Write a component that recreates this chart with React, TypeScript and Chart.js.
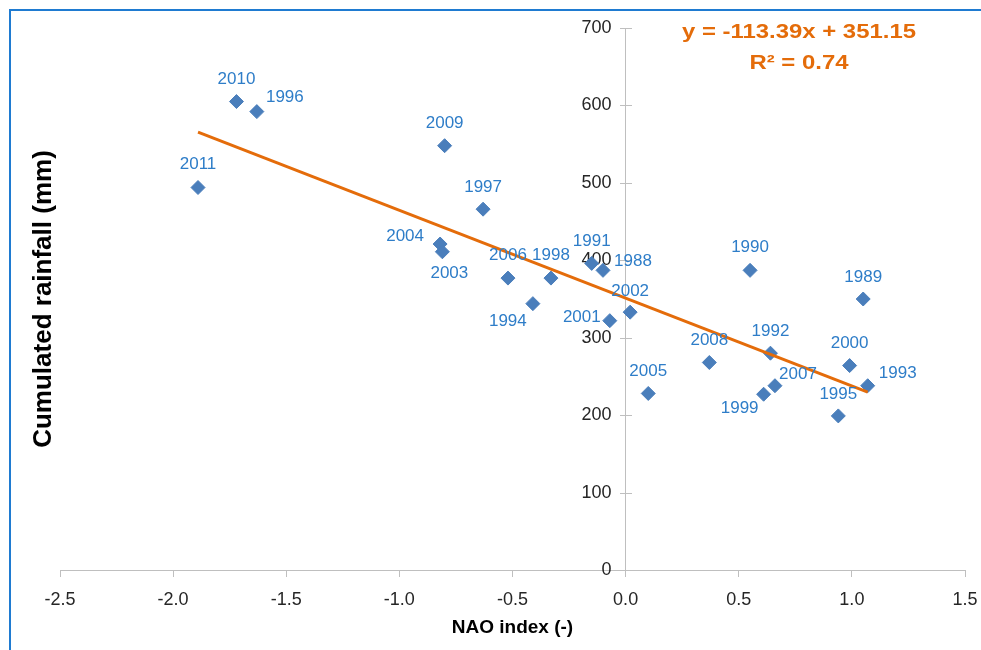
import React, { useEffect, useRef } from 'react';
import { Chart, registerables } from 'chart.js';

Chart.register(...registerables);

// ---- Data ----
const years = ['2011', '2010', '1996', '2009', '1997', '2004', '2003', '2006', '1998', '1994', '1991', '1988',
  '2001', '2002', '2005', '2008', '1990', '1992', '1999', '2007', '1989', '2000', '1993', '1995'];
const naoIndex = [-1.89, -1.72, -1.63, -0.80, -0.63, -0.82, -0.81, -0.52, -0.33, -0.41, -0.15, -0.10,
  -0.07, 0.02, 0.10, 0.37, 0.55, 0.64, 0.61, 0.66, 1.05, 0.99, 1.07, 0.94];
const rainfall = [494, 605, 592, 548, 466, 421, 411, 377, 377, 344, 396, 387,
  322, 333, 228, 268, 387, 280, 227, 238, 350, 264, 238, 199];

// Trendline shown on the chart: y = -113.39x + 351.15, R² = 0.74
const trendSlope = -113.39;
const trendIntercept = 351.15;
const equationText = 'y = -113.39x + 351.15';
const r2Text = 'R² = 0.74';

const xTicks = { min: -2.5, max: 1.5, step: 0.5 };
const yTicks = { min: 0, max: 700, step: 100 };

// Label placement of each year label (pixel offset from its marker)
const labelOffsets: Record<string, [number, number]> = {
  '2011': [0, -23], '2010': [0, -22], '1996': [28, -14], '2009': [0, -22], '1997': [0, -22],
  '2004': [-35, -8], '2003': [7, 22], '2006': [0, -23], '1998': [0, -23], '1994': [-25, 18],
  '1991': [0, -22], '1988': [30, -9], '2001': [-28, -3], '2002': [0, -21], '2005': [0, -22],
  '2008': [0, -22], '1990': [0, -23], '1992': [0, -22], '1999': [-24, 14], '2007': [23, -11],
  '1989': [0, -22], '2000': [0, -22], '1993': [30, -12], '1995': [0, -22],
};

const FONT = '"Liberation Sans", Arial, sans-serif';
const BLUE_MARK = '#4a7ebb';
const BLUE_TEXT = '#2e7dc8';
const ORANGE = '#e46c0a';
const AXIS_GREY = '#bfbfbf';

// Shift the y tick labels of the centred axis away from the axis line
const yLabelShiftPlugin = {
  id: 'yLabelShift',
  beforeDraw(chart: any) {
    const s = chart.scales.y;
    if (!s || !s._computeLabelItems) return;
    const items = s._computeLabelItems(chart.chartArea);
    items.forEach((it: any) => {
      if (it.options && it.options.translation) it.options.translation[0] -= 14;
    });
    s._labelItems = items;
  },
};

const annotationPlugin = {
  id: 'annotations',
  afterDatasetsDraw(chart: any) {
    const { ctx, chartArea } = chart;
    // y-axis cross ticks
    const ys = chart.scales.y;
    const x0 = chart.scales.x.getPixelForValue(0);
    ctx.save();
    ctx.strokeStyle = AXIS_GREY;
    ctx.lineWidth = 1;
    ys.ticks.forEach((t: any) => {
      const py = Math.round(ys.getPixelForValue(t.value)) + 0.5;
      ctx.beginPath();
      ctx.moveTo(Math.round(x0) - 6, py);
      ctx.lineTo(Math.round(x0) + 6, py);
      ctx.stroke();
    });
    ctx.restore();

    // year labels
    const meta = chart.getDatasetMeta(0);
    ctx.save();
    ctx.font = `17px ${FONT}`;
    ctx.fillStyle = BLUE_TEXT;
    ctx.textAlign = 'center';
    ctx.textBaseline = 'middle';
    meta.data.forEach((pt: any, i: number) => {
      const off = labelOffsets[years[i]] || [0, -22];
      ctx.fillText(years[i], pt.x + off[0], pt.y + off[1]);
    });
    ctx.restore();

    // y title
    ctx.save();
    ctx.font = `bold 26px ${FONT}`;
    ctx.fillStyle = '#000';
    ctx.textAlign = 'center';
    ctx.textBaseline = 'middle';
    ctx.translate(44, (chartArea.top + chartArea.bottom) / 2);
    ctx.rotate(-Math.PI / 2);
    ctx.fillText('Cumulated rainfall (mm)', 0, 0);
    ctx.restore();

    // equation
    ctx.save();
    ctx.font = `bold 20px ${FONT}`;
    ctx.fillStyle = ORANGE;
    ctx.textAlign = 'center';
    ctx.textBaseline = 'middle';
    const w = ctx.measureText(equationText).width;
    const sx = 234 / w;
    ctx.translate(799, 32);
    ctx.scale(sx, 1);
    ctx.fillText(equationText, 0, 0);
    ctx.restore();
    ctx.save();
    ctx.font = `bold 20px ${FONT}`;
    ctx.fillStyle = ORANGE;
    ctx.textAlign = 'center';
    ctx.textBaseline = 'middle';
    ctx.translate(799, 63);
    ctx.scale(sx, 1);
    ctx.fillText(r2Text, 0, 0);
    ctx.restore();
  },
};

export default function App() {
  const canvasRef = useRef<HTMLCanvasElement | null>(null);

  useEffect(() => {
    if (!canvasRef.current) return;
    const xMinData = Math.min(...naoIndex);
    const xMaxData = Math.max(...naoIndex);
    const trendData = [
      { x: xMinData, y: trendSlope * xMinData + trendIntercept },
      { x: xMaxData, y: trendSlope * xMaxData + trendIntercept },
    ];
    const points = naoIndex.map((x, i) => ({ x, y: rainfall[i] }));

    const chart = new Chart(canvasRef.current, {
      type: 'scatter',
      data: {
        datasets: [
          {
            label: 'Rainfall',
            data: points,
            pointStyle: 'rectRot',
            pointRadius: 7,
            pointHoverRadius: 7,
            backgroundColor: BLUE_MARK,
            borderColor: BLUE_MARK,
            borderWidth: 1,
            order: 2,
          },
          {
            label: 'Trend',
            type: 'line',
            data: trendData,
            borderColor: ORANGE,
            borderWidth: 3,
            pointRadius: 0,
            fill: false,
            order: 1,
          } as any,
        ],
      },
      options: {
        responsive: false,
        animation: false,
        devicePixelRatio: 1,
        layout: { padding: { left: 60, right: 16, top: 28, bottom: 0 } },
        plugins: {
          legend: { display: false },
          tooltip: { enabled: false },
          title: { display: false },
        },
        scales: {
          x: {
            type: 'linear',
            position: 'bottom',
            min: xTicks.min,
            max: xTicks.max,
            ticks: {
              stepSize: xTicks.step,
              callback: (v: any) => Number(v).toFixed(1),
              font: { family: FONT, size: 18 },
              color: '#262626',
              padding: 12,
              maxRotation: 0,
            },
            grid: { drawOnChartArea: false, drawTicks: true, tickLength: 7, color: AXIS_GREY },
            border: { display: true, color: AXIS_GREY, width: 1 },
            title: {
              display: true,
              text: 'NAO index (-)',
              font: { family: FONT, size: 19, weight: 'bold' },
              color: '#000',
              padding: { top: 0, bottom: 11 },
            },
            afterFit: (s: any) => { s.height = 80; s.paddingLeft = 0; s.paddingRight = 0; },
          },
          y: {
            type: 'linear',
            position: { x: 0 } as any,
            min: yTicks.min,
            max: yTicks.max,
            ticks: {
              stepSize: yTicks.step,
              font: { family: FONT, size: 18 },
              color: '#262626',
              padding: 8,
            },
            grid: { drawOnChartArea: false, drawTicks: false, color: AXIS_GREY },
            border: { display: true, color: AXIS_GREY, width: 1 },
            afterFit: (s: any) => { s.paddingTop = 0; s.paddingBottom = 0; },
          },
        },
      } as any,
      plugins: [yLabelShiftPlugin, annotationPlugin],
    });
    return () => chart.destroy();
  }, []);

  return (
    <div style={{ position: 'fixed', left: 0, top: 0, width: 981, height: 650, background: '#fff', overflow: 'hidden' }}>
      <canvas ref={canvasRef} width={981} height={650} style={{ display: 'block' }} />
      <div
        style={{
          position: 'absolute', left: 9, top: 9, width: 990, height: 700,
          borderLeft: '2px solid #1f7bd1', borderTop: '2px solid #1f7bd1', pointerEvents: 'none',
        }}
      />
    </div>
  );
}
